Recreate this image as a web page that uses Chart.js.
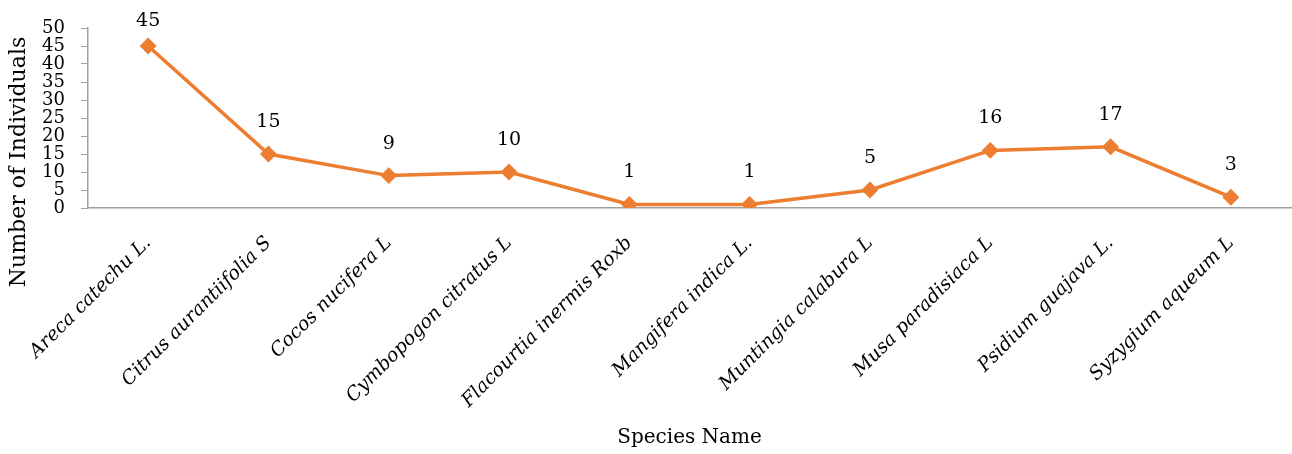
<!DOCTYPE html>
<html>
<head>
<meta charset="utf-8">
<script src="https://cdn.jsdelivr.net/npm/chart.js@4"></script>
<style>
  html, body { margin: 0; padding: 0; background: #fff; }
  #wrap { width: 1292px; height: 454px; }
</style>
</head>
<body>
<div id="wrap"><canvas id="speciesChart" width="1292" height="454"></canvas></div>
<script>
// Datos del gráfico
const species = ['Areca catechu L.', 'Citrus aurantiifolia S', 'Cocos nucifera L', 'Cymbopogon citratus L',
  'Flacourtia inermis Roxb', 'Mangifera indica L.', 'Muntingia calabura L', 'Musa paradisiaca L',
  'Psidium guajava L.', 'Syzygium aqueum L'];
const individuals = [45, 15, 9, 10, 1, 1, 5, 16, 17, 3];
const yTicks = [0, 5, 10, 15, 20, 25, 30, 35, 40, 45, 50];

const serif = "'DejaVu Serif', 'Liberation Serif', serif";
const orange = '#ED7D31';

// Etiquetas de valor encima de cada punto
const valueLabels = {
  id: 'valueLabels',
  afterDatasetsDraw(chart) {
    const ctx = chart.ctx;
    const meta = chart.getDatasetMeta(0);
    ctx.save();
    ctx.font = '19px ' + serif;
    ctx.fillStyle = '#000';
    ctx.textAlign = 'center';
    ctx.textBaseline = 'middle';
    meta.data.forEach((pt, i) => {
      ctx.fillText(String(individuals[i]), pt.x, Math.max(pt.y - 32, 21));
    });
    ctx.restore();
  }
};

// Título del eje Y (dibujado a mano para colocarlo como en el original)
const yTitle = {
  id: 'yTitle',
  afterDraw(chart) {
    const ctx = chart.ctx;
    ctx.save();
    ctx.translate(19, 162);
    ctx.rotate(-Math.PI / 2);
    ctx.font = '22px ' + serif;
    ctx.fillStyle = '#000';
    ctx.textAlign = 'center';
    ctx.textBaseline = 'middle';
    ctx.fillText('Number of Individuals', 0, 0);
    ctx.restore();
  }
};

const ctx = document.getElementById('speciesChart').getContext('2d');
const speciesChart = new Chart(ctx, {
  type: 'line',
  data: {
    labels: species,
    datasets: [{
      data: individuals,
      borderColor: orange,
      backgroundColor: orange,
      borderWidth: 3.5,
      pointStyle: 'rectRot',
      pointRadius: 6,
      pointBackgroundColor: orange,
      pointBorderColor: orange,
      tension: 0
    }]
  },
  options: {
    responsive: false,
    animation: false,
    layout: { autoPadding: false, padding: { top: 28, right: 1, left: 0, bottom: 0 } },
    plugins: {
      legend: { display: false },
      tooltip: { enabled: false }
    },
    scales: {
      x: {
        offset: true,
        grid: { display: false },
        border: { display: true, color: '#A0A0A0', width: 1.5 },
        ticks: {
          autoSkip: false,
          minRotation: 45,
          maxRotation: 45,
          padding: 16,
          color: '#000',
          font: { family: serif, size: 19, style: 'italic' }
        },
        title: {
          display: true,
          text: 'Species Name',
          color: '#000',
          font: { family: serif, size: 20 },
          padding: { top: 0, bottom: 4 }
        },
        afterFit(scale) {
          scale.height = 246;
          scale.paddingLeft = 0;
          scale.paddingRight = 0;
        }
      },
      y: {
        min: 0,
        max: 50,
        afterBuildTicks(scale) {
          scale.ticks = yTicks.map(v => ({ value: v }));
        },
        grid: {
          drawOnChartArea: false,
          drawTicks: true,
          tickLength: 7,
          color: '#A0A0A0'
        },
        border: { display: true, color: '#A0A0A0', width: 1.5 },
        ticks: {
          autoSkip: false,
          padding: 16,
          color: '#000',
          font: { family: serif, size: 18 }
        },
        afterFit(scale) {
          scale.width = 88;
          scale.paddingTop = 0;
          scale.paddingBottom = 0;
        }
      }
    }
  },
  plugins: [valueLabels, yTitle]
});
</script>
</body>
</html>
